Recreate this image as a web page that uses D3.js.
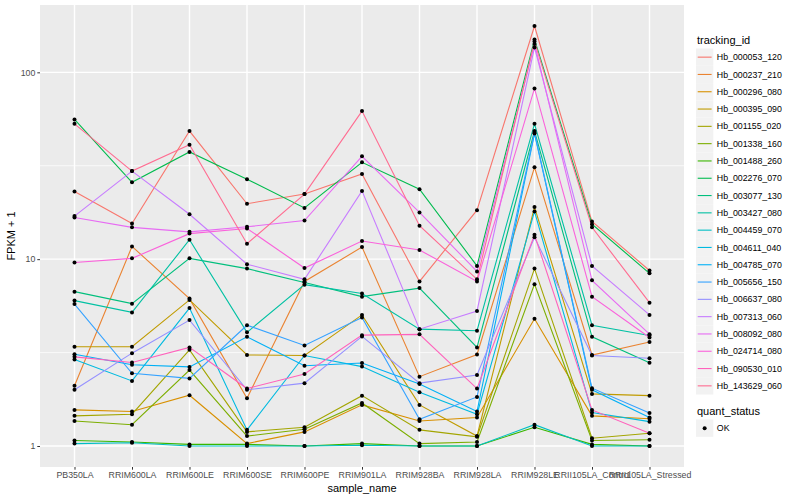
<!DOCTYPE html>
<html>
<head>
<meta charset="utf-8">
<script src="https://cdn.jsdelivr.net/npm/d3@7"></script>
<style>
  body { margin: 0; background: #fff; }
  svg { font-family: "Liberation Sans", Arial, sans-serif; }
</style>
</head>
<body>
<svg width="800" height="500"></svg>
<script>
const samples = ["PB350LA", "RRIM600LA", "RRIM600LE", "RRIM600SE", "RRIM600PE", "RRIM901LA",
    "RRIM928BA", "RRIM928LA", "RRIM928LE", "RRII105LA_Control", "RRII105LA_Stressed"];

const trackingIds = ["Hb_000053_120", "Hb_000237_210", "Hb_000296_080", "Hb_000395_090", "Hb_001155_020",
    "Hb_001338_160", "Hb_001488_260", "Hb_002276_070", "Hb_003077_130", "Hb_003427_080",
    "Hb_004459_070", "Hb_004611_040", "Hb_004785_070", "Hb_005656_150", "Hb_006637_080",
    "Hb_007313_060", "Hb_008092_080", "Hb_024714_080", "Hb_090530_010", "Hb_143629_060"];

// FPKM + 1, one array per gene, in sample order
const hb_000053_120 = [23, 15.5, 48.5, 19.8, 22.3, 28.6, 7.6, 18.3, 177, 15.9, 8.7];
const hb_000237_210 = [2.1, 11.7, 6.15, 1.8, 7.6, 11.6, 2.35, 3.09, 31, 3.07, 3.6];
const hb_000296_080 = [1.56, 1.53, 1.87, 1.03, 1.19, 1.66, 1.36, 1.42, 4.8, 1.45, 1.4];
const hb_000395_090 = [3.4, 3.4, 6.05, 3.07, 3.05, 5.03, 1.66, 1.13, 19, 1.9, 1.86];
const hb_001155_020 = [1.45, 1.48, 3.27, 1.19, 1.26, 1.86, 1.22, 1.12, 8.9, 1.1, 1.17];
const hb_001338_160 = [1.36, 1.3, 2.55, 1.13, 1.23, 1.7, 1.03, 1.05, 7.35, 1.07, 1.08];
const hb_001488_260 = [1.07, 1.05, 1.02, 1.02, 1.0, 1.03, 1.0, 1.0, 1.26, 1.02, 1.0];
const hb_002276_070 = [56, 25.8, 37.5, 26.8, 18.8, 33, 23.7, 9.2, 150, 15.4, 8.4];
const hb_003077_130 = [6.7, 5.78, 10.1, 8.9, 7.5, 6.3, 7.0, 3.37, 48.5, 3.84, 2.79];
const hb_003427_080 = [6.0, 5.19, 12.7, 4.06, 7.3, 6.55, 4.22, 4.14, 53, 4.43, 3.9];
const hb_004459_070 = [1.03, 1.04, 1.0, 1.0, 1.0, 1.01, 1.0, 1.0, 1.3, 1.0, 1.0];
const hb_004611_040 = [2.9, 2.23, 5.47, 1.22, 3.05, 2.66, 1.94, 1.48, 18, 1.51, 1.35];
const hb_004785_070 = [3.1, 2.72, 2.65, 3.84, 2.69, 2.78, 2.15, 1.53, 47, 2.0, 1.42];
const hb_005656_150 = [5.75, 2.45, 2.3, 4.43, 3.45, 4.87, 1.39, 1.83, 47.5, 2.04, 1.5];
const hb_006637_080 = [2.0, 3.14, 4.72, 2.0, 2.17, 3.86, 2.17, 2.4, 13.1, 3.05, 2.95];
const hb_007313_060 = [17, 29.6, 17.4, 9.4, 7.8, 23.2, 4.22, 5.28, 136, 9.2, 5.03];
const hb_008092_080 = [16.7, 14.8, 14, 14.9, 16.1, 35.5, 17.8, 8.6, 142, 7.7, 3.97];
const hb_024714_080 = [9.6, 10.1, 13.7, 14.6, 8.96, 12.5, 11.2, 7.6, 82, 6.3, 3.81];
const hb_090530_010 = [3.0, 2.8, 3.37, 2.03, 2.43, 3.92, 3.96, 2.03, 13.5, 1.56, 1.17];
const hb_143629_060 = [53, 29.6, 41, 12.1, 22.3, 62, 15.1, 7.8, 146, 14.8, 5.85];

const seriesValues = [hb_000053_120, hb_000237_210, hb_000296_080, hb_000395_090, hb_001155_020,
    hb_001338_160, hb_001488_260, hb_002276_070, hb_003077_130, hb_003427_080,
    hb_004459_070, hb_004611_040, hb_004785_070, hb_005656_150, hb_006637_080,
    hb_007313_060, hb_008092_080, hb_024714_080, hb_090530_010, hb_143629_060];

const yTicks = [1, 10, 100];
const quantStatus = ["OK"];

// ggplot hue palette for 20 levels
const palette = ["#F8766D", "#EA8331", "#D89000", "#C09B00", "#A3A500", "#7CAE00", "#39B600", "#00BB4E",
    "#00BF7D", "#00C1A3", "#00BFC4", "#00BAE0", "#00B0F6", "#35A2FF", "#9590FF", "#C77CFF",
    "#E76BF3", "#FA62DB", "#FF62BC", "#FF6C91"];

const series = trackingIds.map((id, i) => ({
    id,
    points: samples.map((s, j) => ({sample: s, value: seriesValues[i][j]}))
}));

const svg = d3.select("svg");
const panel = {left: 40, right: 684, top: 5, bottom: 467};

const x = d3.scalePoint()
    .domain(samples)
    .range([panel.left, panel.right])
    .padding(0.6);

// log scale with ggplot's 5% expansion in log space
const allValues = seriesValues.flat();
const lo = Math.log10(d3.min(allValues)), hi = Math.log10(d3.max(allValues));
const pad = (hi - lo) * 0.05;
const y = d3.scaleLog()
    .domain([10 ** (lo - pad), 10 ** (hi + pad)])
    .range([panel.bottom, panel.top]);

const color = d3.scaleOrdinal().domain(trackingIds).range(palette);

// panel background
svg.append("rect")
    .attr("x", panel.left)
    .attr("y", panel.top)
    .attr("width", panel.right - panel.left)
    .attr("height", panel.bottom - panel.top)
    .attr("fill", "#EBEBEB");

const grid = svg.append("g");
const minorTicks = [10 ** 0.5, 10 ** 1.5];
grid.selectAll("line.minor")
    .data(minorTicks)
    .enter().append("line")
    .attr("x1", panel.left).attr("x2", panel.right)
    .attr("y1", d => y(d)).attr("y2", d => y(d))
    .attr("stroke", "#fff").attr("stroke-width", 0.7);
grid.selectAll("line.majorY")
    .data(yTicks)
    .enter().append("line")
    .attr("x1", panel.left).attr("x2", panel.right)
    .attr("y1", d => y(d)).attr("y2", d => y(d))
    .attr("stroke", "#fff").attr("stroke-width", 1.4);
grid.selectAll("line.majorX")
    .data(samples)
    .enter().append("line")
    .attr("x1", d => x(d)).attr("x2", d => x(d))
    .attr("y1", panel.top).attr("y2", panel.bottom)
    .attr("stroke", "#fff").attr("stroke-width", 1.4);

// lines
const line = d3.line()
    .x(d => x(d.sample))
    .y(d => y(d.value));

svg.append("g")
    .selectAll("path")
    .data(series)
    .enter().append("path")
    .attr("d", d => line(d.points))
    .attr("fill", "none")
    .attr("stroke", d => color(d.id))
    .attr("stroke-width", 1.1);

// points
svg.append("g")
    .selectAll("circle")
    .data(series.flatMap(d => d.points))
    .enter().append("circle")
    .attr("cx", d => x(d.sample))
    .attr("cy", d => y(d.value))
    .attr("r", 2)
    .attr("fill", "#000");

// axes
const yAxis = svg.append("g")
    .attr("transform", `translate(${panel.left},0)`)
    .call(d3.axisLeft(y).tickValues(yTicks).tickFormat(d3.format("d")).tickSize(2.7).tickPadding(2));
const xAxis = svg.append("g")
    .attr("transform", `translate(0,${panel.bottom})`)
    .call(d3.axisBottom(x).tickSize(2.7).tickPadding(2));

[yAxis, xAxis].forEach(a => {
    a.select(".domain").remove();
    a.selectAll(".tick line").attr("stroke", "#333");
    a.selectAll(".tick text")
        .attr("fill", "#4D4D4D")
        .style("font-size", "8.8px")
        .style("font-family", "Liberation Sans, Arial, sans-serif");
});

svg.append("text")
    .attr("x", (panel.left + panel.right) / 2)
    .attr("y", 492)
    .attr("text-anchor", "middle")
    .style("font-size", "11px")
    .text("sample_name");

svg.append("text")
    .attr("transform", `translate(15,${(panel.top + panel.bottom) / 2}) rotate(-90)`)
    .attr("text-anchor", "middle")
    .style("font-size", "11px")
    .text("FPKM + 1");

// legend: tracking_id
const legend = svg.append("g").attr("transform", "translate(696,0)");
legend.append("text")
    .attr("x", 1)
    .attr("y", 44)
    .style("font-size", "11px")
    .text("tracking_id");

const keySize = 17.3;
const keys = legend.selectAll("g.key")
    .data(trackingIds)
    .enter().append("g")
    .attr("transform", (d, i) => `translate(0,${48.5 + i * keySize})`);
keys.append("rect")
    .attr("width", keySize)
    .attr("height", keySize)
    .attr("fill", "#F2F2F2");
keys.append("line")
    .attr("x1", 1.7).attr("x2", keySize - 1.7)
    .attr("y1", keySize / 2).attr("y2", keySize / 2)
    .attr("stroke", d => color(d))
    .attr("stroke-width", 1.1);
keys.append("text")
    .attr("x", keySize + 3.5)
    .attr("y", keySize / 2)
    .attr("dy", "0.35em")
    .style("font-size", "8.8px")
    .text(d => d);

// legend: quant_status
legend.append("text")
    .attr("x", 1)
    .attr("y", 415)
    .style("font-size", "11px")
    .text("quant_status");
const qKeys = legend.selectAll("g.qkey")
    .data(quantStatus)
    .enter().append("g")
    .attr("transform", (d, i) => `translate(0,${419.5 + i * keySize})`);
qKeys.append("rect")
    .attr("width", keySize)
    .attr("height", keySize)
    .attr("fill", "#F2F2F2");
qKeys.append("circle")
    .attr("cx", keySize / 2)
    .attr("cy", keySize / 2)
    .attr("r", 2)
    .attr("fill", "#000");
qKeys.append("text")
    .attr("x", keySize + 3.5)
    .attr("y", keySize / 2)
    .attr("dy", "0.35em")
    .style("font-size", "8.8px")
    .text(d => d);
</script>
</body>
</html>
